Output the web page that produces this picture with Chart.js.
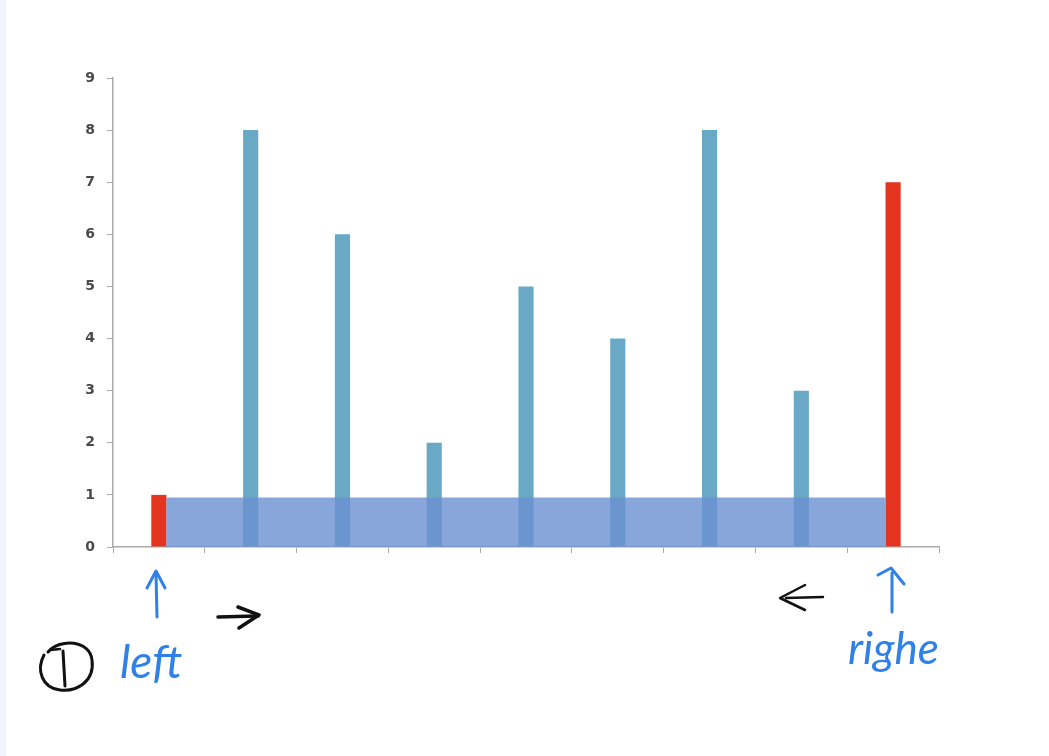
<!DOCTYPE html>
<html>
<head>
<meta charset="utf-8">
<script src="https://cdn.jsdelivr.net/npm/chart.js@4.4.0/dist/chart.umd.min.js"></script>
<style>
  html, body { margin: 0; padding: 0; background: #ffffff; }
  #wrap { position: relative; width: 1049px; height: 756px; overflow: hidden; background: #fff; }
  #edge { position: absolute; left: 0; top: 0; width: 6px; height: 756px; background: #f3f3fb; }
  #c { position: absolute; left: 0; top: 0; }
  #ann { position: absolute; left: 0; top: 0; pointer-events: none; }
</style>
</head>
<body>
<div id="wrap">
  <div id="edge"></div>
  <canvas id="c" width="1049" height="756"></canvas>
  <svg id="ann" width="1049" height="756" viewBox="0 0 1049 756">
    <g fill="none" stroke-linecap="round" stroke-linejoin="round">
      <!-- circled 1 -->
      <path d="M48 652 C60 638 90 640 92 660 C95 682 76 692 60 690 C42 688 36 670 44 655" stroke="#111" stroke-width="3"/>
      <path d="M50 650 L60 649" stroke="#111" stroke-width="2.5"/>
      <path d="M63 651 L65 686" stroke="#111" stroke-width="3"/>
      <!-- left blue up arrow -->
      <path d="M157 617 L156 574" stroke="#2f80e8" stroke-width="3"/>
      <path d="M147 588 L156 571 L165 588" stroke="#2f80e8" stroke-width="3"/>
      <!-- right blue up arrow -->
      <path d="M892 612 L892 573" stroke="#2f80e8" stroke-width="3"/>
      <path d="M878 575 L891 568 L904 584" stroke="#2f80e8" stroke-width="3"/>
      <!-- black right arrow -->
      <path d="M218 617 L258 616" stroke="#111" stroke-width="3.5"/>
      <path d="M238 607 L259 615 L239 628" stroke="#111" stroke-width="3.5"/>
      <!-- black left arrow -->
      <path d="M786 598 L823 597" stroke="#111" stroke-width="2.5"/>
      <path d="M805 585 L780 598 L805 610" stroke="#111" stroke-width="2.5"/>
    </g>
    <text x="120" y="678" font-family="Lato" font-style="italic" font-size="46" fill="#2f80e8">left</text>
    <text x="848" y="664" font-family="Lato" font-style="italic" font-size="44" fill="#2f80e8">righe</text>
  </svg>
</div>
<script>
const categories = ['', '', '', '', '', '', '', '', ''];
const heights = [1, 8, 6, 2, 5, 4, 8, 3, 7];
const pointerIndices = [0, 8];
const waterLevel = 0.95;
const yTicks = [0, 1, 2, 3, 4, 5, 6, 7, 8, 9];

const barColor = '#69a9c6';
const pointerColor = '#e2341f';
const barColors = heights.map((v, i) => pointerIndices.includes(i) ? pointerColor : barColor);

const waterPlugin = {
  id: 'water',
  afterDatasetsDraw(chart) {
    const meta = chart.getDatasetMeta(0);
    const leftBar = meta.data[pointerIndices[0]];
    const rightBar = meta.data[pointerIndices[1]];
    const y = chart.scales.y;
    const x0 = leftBar.x + leftBar.width / 2;
    const x1 = rightBar.x - rightBar.width / 2;
    const yTop = y.getPixelForValue(waterLevel);
    const yBot = y.getPixelForValue(0);
    const ctx = chart.ctx;
    ctx.save();
    ctx.fillStyle = 'rgba(108,144,209,0.8)';
    ctx.fillRect(x0, yTop, x1 - x0, yBot - yTop);
    ctx.restore();
  }
};

new Chart(document.getElementById('c'), {
  type: 'bar',
  data: {
    labels: categories,
    datasets: [{
      data: heights,
      backgroundColor: barColors,
      borderWidth: 0,
      categoryPercentage: 1,
      barPercentage: 0.165
    }]
  },
  options: {
    responsive: false,
    animation: false,
    devicePixelRatio: 1,
    layout: { padding: { left: 0, top: 78, right: 110, bottom: 0 } },
    plugins: { legend: { display: false }, tooltip: { enabled: false } },
    scales: {
      x: {
        grid: { display: true, drawOnChartArea: false, drawTicks: true, tickLength: 6, color: '#aaaaaa', offset: true },
        border: { display: true, color: '#aaaaaa', width: 1.5 },
        ticks: { display: false },
        afterFit(s) { s.height = 756 - 547; }
      },
      y: {
        min: 0,
        max: 9,
        grid: { display: true, drawOnChartArea: false, drawTicks: true, tickLength: 6, color: '#aaaaaa' },
        border: { display: true, color: '#aaaaaa', width: 1.5 },
        afterBuildTicks(s) { s.ticks = yTicks.map(v => ({ value: v })); },
        ticks: {
          stepSize: 1,
          padding: 12,
          color: '#4a4a4a',
          font: { family: 'DejaVu Sans', size: 14, weight: 'bold' }
        },
        afterFit(s) { s.width = 113; }
      }
    }
  },
  plugins: [waterPlugin]
});
</script>
</body>
</html>
